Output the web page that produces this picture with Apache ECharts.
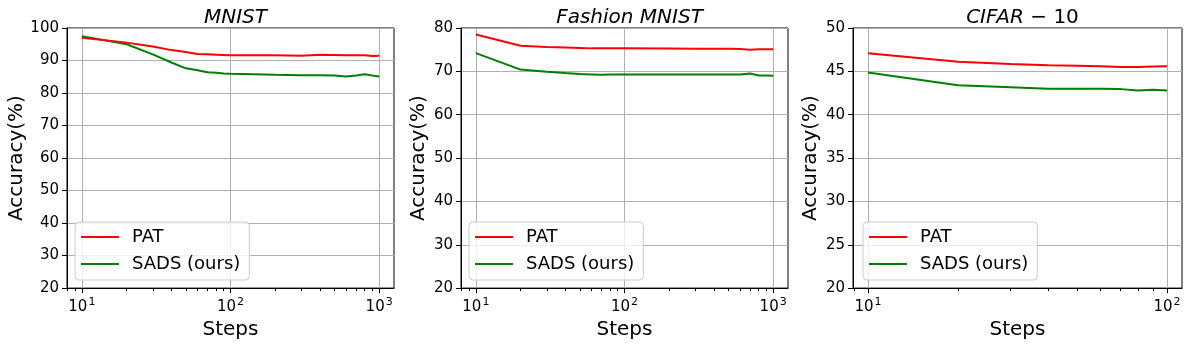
<!DOCTYPE html>
<html>
<head>
<meta charset="utf-8">
<script src="https://cdn.jsdelivr.net/npm/echarts@6/dist/echarts.min.js"></script>
<style>
  html, body { margin: 0; padding: 0; background: #fff; }
  #main { width: 1192px; height: 345px; }
</style>
</head>
<body>
<div id="main"></div>
<script>
// 데이터
var stepsLong = [10, 20, 30, 40, 50, 60, 70, 80, 90, 100, 200, 300, 400, 500, 600, 700, 800, 900, 1000];
var stepsShort = [10, 20, 30, 40, 50, 60, 70, 80, 90, 100];

var mnistPat = [97.0, 95.5, 94.3, 93.2, 92.6, 92.0, 91.9, 91.8, 91.7, 91.6, 91.6, 91.5, 91.8, 91.7, 91.6, 91.6, 91.6, 91.4, 91.5];
var mnistSads = [97.5, 95.0, 91.9, 89.4, 87.6, 87.0, 86.4, 86.2, 86.0, 85.9, 85.6, 85.5, 85.5, 85.4, 85.1, 85.4, 85.8, 85.4, 85.1];

var fashionPat = [78.5, 75.9, 75.6, 75.5, 75.4, 75.3, 75.35, 75.3, 75.3, 75.3, 75.25, 75.2, 75.2, 75.2, 75.15, 75.0, 75.1, 75.1, 75.1];
var fashionSads = [74.2, 70.4, 69.9, 69.6, 69.4, 69.3, 69.2, 69.3, 69.25, 69.3, 69.3, 69.25, 69.3, 69.3, 69.3, 69.5, 69.05, 69.05, 69.0];

var cifarPat = [47.08, 46.12, 45.85, 45.7, 45.65, 45.6, 45.5, 45.5, 45.55, 45.6];
var cifarSads = [44.86, 43.4, 43.17, 43.0, 43.0, 43.0, 42.95, 42.8, 42.87, 42.8];

// 눈금
var xMajor1 = [10, 100, 1000];
var xMajor3 = [10, 100];
var xMinor1 = [8, 9, 20, 30, 40, 50, 60, 70, 80, 90, 200, 300, 400, 500, 600, 700, 800, 900];
var xMinor3 = [9, 20, 30, 40, 50, 60, 70, 80, 90];
var yTicks1 = [20, 100, 10];   // min, max, interval
var yTicks2 = [20, 80, 10];
var yTicks3 = [20, 50, 5];

var seriesNames = ['PAT', 'SADS (ours)'];
var FONT = 'DejaVu Sans';

function pairs(xs, ys) {
  return xs.map(function (x, i) { return [x, ys[i]]; });
}

var grids = [
  { left: 67, top: 28, width: 327, height: 261 },
  { left: 461, top: 28, width: 327, height: 261 },
  { left: 853, top: 28, width: 329, height: 261 }
];
var xRanges = [
  [Math.pow(10, 0.9), Math.pow(10, 3.1)],
  [Math.pow(10, 0.9), Math.pow(10, 3.1)],
  [Math.pow(10, 0.95), Math.pow(10, 2.05)]
];
var majors = [xMajor1, xMajor1, xMajor3];
var minors = [xMinor1, xMinor1, xMinor3];
var yTicks = [yTicks1, yTicks2, yTicks3];
var yNameGap = [40, 32, 32];
var titles = [
  '{i|MNIST}',
  '{i|Fashion MNIST}',
  '{i|CIFAR}{n| \u2212 10}'
];
var legendLeft = [75, 469, 863];

var xAxes = [], yAxes = [], series = [], titleArr = [], legends = [];

for (var g = 0; g < 3; g++) {
  // 주 눈금 축
  xAxes.push({
    type: 'log', logBase: 10, gridIndex: g, position: 'bottom',
    min: xRanges[g][0], max: xRanges[g][1],
    name: 'Steps', nameLocation: 'middle', nameGap: 27,
    nameTextStyle: { fontFamily: FONT, fontSize: 20, color: '#000' },
    axisLine: { show: true, lineStyle: { color: '#000', width: 1 } },
    axisTick: { show: true, length: 5, customValues: majors[g], lineStyle: { color: '#000' } },
    axisLabel: {
      show: true, margin: 9, customValues: majors[g],
      fontFamily: FONT, fontSize: 15, color: '#000',
      formatter: function (v) { return '{b|10}{s|' + Math.round(Math.log10(v)) + '}'; },
      rich: {
        b: { fontFamily: FONT, fontSize: 15, color: '#000', lineHeight: 18, verticalAlign: 'bottom' },
        s: { fontFamily: FONT, fontSize: 11, color: '#000', lineHeight: 18, verticalAlign: 'top', padding: [0, 0, 0, 1] }
      }
    },
    splitLine: { show: true, lineStyle: { color: '#b0b0b0', width: 1 } }
  });
  // 보조 눈금 축
  xAxes.push({
    type: 'log', logBase: 10, gridIndex: g, position: 'bottom',
    min: xRanges[g][0], max: xRanges[g][1],
    axisLine: { show: false },
    axisTick: { show: true, length: 3, customValues: minors[g], lineStyle: { color: '#000' } },
    axisLabel: { show: false },
    splitLine: { show: false }
  });
  yAxes.push({
    type: 'value', gridIndex: g,
    min: yTicks[g][0], max: yTicks[g][1], interval: yTicks[g][2],
    name: 'Accuracy(%)', nameLocation: 'middle', nameGap: yNameGap[g],
    nameTextStyle: { fontFamily: FONT, fontSize: 20, color: '#000' },
    axisLine: { show: true, lineStyle: { color: '#000', width: 1 } },
    axisTick: { show: true, length: 5, lineStyle: { color: '#000' } },
    axisLabel: { margin: 8, fontFamily: FONT, fontSize: 15, color: '#000' },
    splitLine: { show: true, lineStyle: { color: '#b0b0b0', width: 1 } }
  });
  titleArr.push({
    text: titles[g],
    left: grids[g].left + grids[g].width / 2, top: 3, textAlign: 'center',
    textStyle: {
      fontWeight: 'normal',
      rich: {
        i: { fontFamily: FONT, fontSize: 20, fontStyle: 'italic', fontWeight: 'normal', color: '#000' },
        n: { fontFamily: FONT, fontSize: 20, fontWeight: 'normal', color: '#000' }
      }
    }
  });
  legends.push({
    data: seriesNames, orient: 'vertical',
    left: legendLeft[g], top: 222,
    padding: [5, 9, 6, 6], itemGap: 7, itemWidth: 38, itemHeight: 2,
    icon: 'rect',
    backgroundColor: 'rgba(255,255,255,0.8)', borderColor: '#cccccc', borderWidth: 1, borderRadius: 4,
    selectedMode: false,
    textStyle: { fontFamily: FONT, fontSize: 18, color: '#000', lineHeight: 20, padding: [0, 0, 0, 8] }
  });
}

var dataSets = [
  [pairs(stepsLong, mnistPat), pairs(stepsLong, mnistSads)],
  [pairs(stepsLong, fashionPat), pairs(stepsLong, fashionSads)],
  [pairs(stepsShort, cifarPat), pairs(stepsShort, cifarSads)]
];
var colors = ['#ff0000', '#008000'];
for (var k = 0; k < 3; k++) {
  for (var s = 0; s < 2; s++) {
    series.push({
      name: seriesNames[s], type: 'line',
      xAxisIndex: k * 2, yAxisIndex: k,
      data: dataSets[k][s],
      symbol: 'none', smooth: false, animation: false,
      color: colors[s],
      itemStyle: { color: colors[s] },
      lineStyle: { color: colors[s], width: 2 },
      z: s === 0 ? 3 : 2
    });
  }
}

var myChart = echarts.init(document.getElementById('main'), null, { renderer: 'canvas' });
var option = {
  backgroundColor: '#fff',
  animation: false,
  title: titleArr,
  legend: legends,
  grid: grids.map(function (gr) {
    return { left: gr.left, top: gr.top, width: gr.width, height: gr.height, show: true, borderColor: '#000', borderWidth: 1, backgroundColor: 'transparent' };
  }),
  xAxis: xAxes,
  yAxis: yAxes,
  series: series
};
myChart.setOption(option);
window.addEventListener('resize', myChart.resize);
</script>
</body>
</html>
